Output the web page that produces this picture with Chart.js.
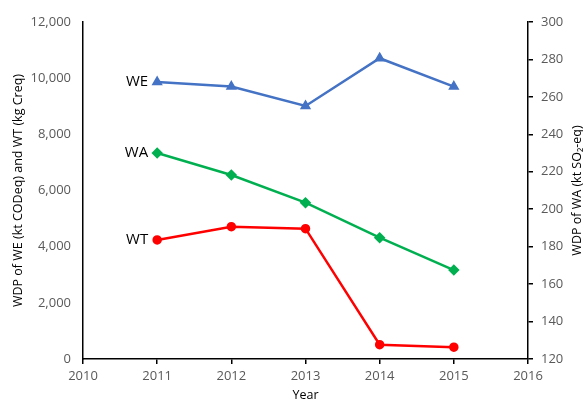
<!DOCTYPE html>
<html>
<head>
<meta charset="utf-8">
<script src="https://cdn.jsdelivr.net/npm/chart.js@4"></script>
<style>
  body { margin: 0; background: #fff; }
</style>
</head>
<body>
<canvas id="c" width="583" height="403"></canvas>
<script>
const years = [2011, 2012, 2013, 2014, 2015]
const weValues = [9860, 9700, 9010, 10710, 9700]   // kt CODeq, left axis
const waValues = [230, 218.3, 203.5, 184.8, 167.5] // kt SO2-eq, right axis
const wtValues = [4240, 4710, 4640, 510, 420]      // kg Creq, left axis
const seriesNames = ['WE', 'WA', 'WT']

const tickFont = { family: 'Open Sans', size: 13 }
const grey = '#595959'

function pts(vals) {
    return vals.map((v, i) => ({ x: years[i], y: v }))
}

function sideTitle(ctx, text, x, y) {
    ctx.save()
    ctx.translate(x, y)
    ctx.rotate(-Math.PI / 2)
    ctx.fillText(text, 0, 0)
    ctx.restore()
}

// names left of each line's first point + both y titles (bottom to top)
const seriesLabels = {
    id: 'seriesLabels',
    afterDatasetsDraw(chart) {
        const ctx = chart.ctx
        ctx.save()
        ctx.font = '15px "Open Sans"'
        ctx.fillStyle = '#000'
        ctx.textAlign = 'right'
        ctx.textBaseline = 'middle'
        chart.data.datasets.forEach((ds, i) => {
            const p = chart.getDatasetMeta(i).data[0]
            ctx.fillText(seriesNames[i], p.x - 9, p.y)
        })
        const a = chart.chartArea
        const mid = (a.top + a.bottom) / 2
        ctx.font = '12.5px "Open Sans"'
        ctx.textAlign = 'center'
        sideTitle(ctx, 'WDP of WE (kt CODeq) and WT (kg Creq)', 18, mid)
        sideTitle(ctx, 'WDP of WA (kt SO\u2082-eq)', 577, mid)
        ctx.restore()
    }
}

const ctx = document.getElementById('c').getContext('2d')
new Chart(ctx, {
    type: 'line',
    data: {
        datasets: [{
            label: 'WE',
            data: pts(weValues),
            yAxisID: 'y',
            borderColor: '#4472C4',
            backgroundColor: '#4472C4',
            borderWidth: 2.5,
            pointStyle: 'triangle',
            pointRadius: 4
        }, {
            label: 'WA',
            data: pts(waValues),
            yAxisID: 'y2',
            borderColor: '#00B050',
            backgroundColor: '#00B050',
            borderWidth: 2.5,
            pointStyle: 'rectRot',
            pointRadius: 4
        }, {
            label: 'WT',
            data: pts(wtValues),
            yAxisID: 'y',
            borderColor: '#FF0000',
            backgroundColor: '#FF0000',
            borderWidth: 2.5,
            pointStyle: 'circle',
            pointRadius: 3.5
        }]
    },
    options: {
        responsive: false,
        animation: false,
        layout: { padding: { top: 22 } },
        plugins: {
            legend: { display: false },
            tooltip: { enabled: false }
        },
        scales: {
            x: {
                type: 'linear',
                min: 2010,
                max: 2016,
                afterFit: (s) => { s.height = 44 },
                ticks: {
                    stepSize: 1,
                    callback: (v) => String(v),
                    font: tickFont,
                    color: grey,
                    padding: 4
                },
                grid: { drawOnChartArea: false, tickLength: 5, color: '#000', lineWidth: 1.5 },
                border: { color: '#000', width: 1.5 },
                title: { display: true, text: 'Year', font: { family: 'Open Sans', size: 12.5 }, color: '#000', padding: 0 }
            },
            y: {
                position: 'left',
                min: 0,
                max: 12000,
                afterFit: (s) => { s.width = 83 },
                ticks: { stepSize: 2000, font: tickFont, color: grey, padding: 4 },
                grid: { display: false },
                border: { color: '#000', width: 1.5 }
            },
            y2: {
                position: 'right',
                min: 120,
                max: 300,
                afterFit: (s) => { s.width = 55 },
                ticks: { stepSize: 20, font: tickFont, color: grey, padding: 8 },
                grid: { drawOnChartArea: false, tickLength: 5, color: '#000', lineWidth: 1.5 },
                border: { color: '#000', width: 1.5 }
            }
        }
    },
    plugins: [seriesLabels]
})
</script>
</body>
</html>
